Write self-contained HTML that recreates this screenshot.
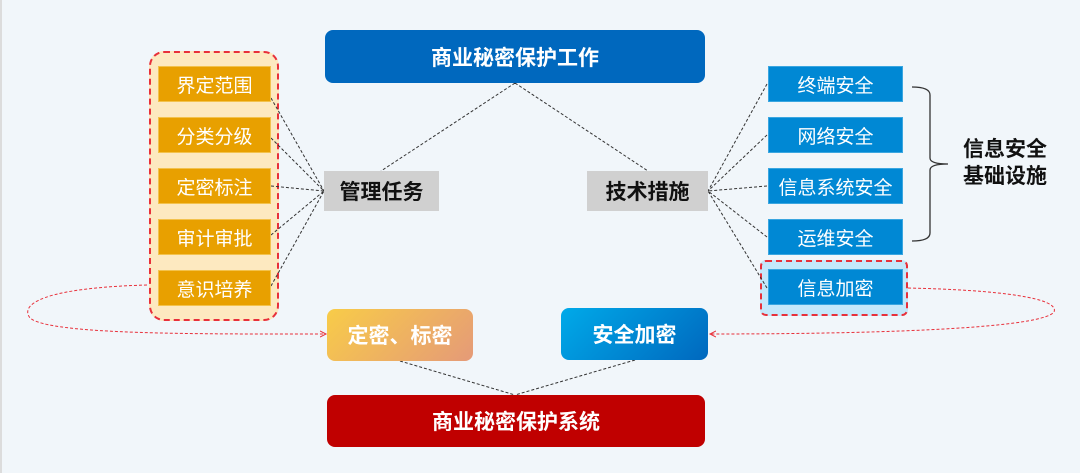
<!DOCTYPE html>
<html><head><meta charset="utf-8"><style>
html,body{margin:0;padding:0}
body{width:1080px;height:473px;background:#f1f6fa;position:relative;overflow:hidden;font-family:"Liberation Sans","Noto Sans CJK SC",sans-serif}
.b{position:absolute;display:flex;align-items:center;justify-content:center;box-sizing:border-box}
.o{background:#e8a000;color:#fff;font-size:19px;left:158px;width:113px;height:36px;border:1px solid #f3c24c}
.bl{background:#0088d4;color:#fff;font-size:19px;left:768px;width:135px;height:36px;border:1px solid #3aa6e0}
.w{color:#fff;font-weight:bold;font-size:21px;border-radius:8px}
.g{background:#d0d0d0;color:#111;font-weight:bold;font-size:21px}
</style></head><body>
<div style="position:absolute;left:0;top:0;width:2px;height:473px;background:#dcdcdc"></div>
<div style="position:absolute;left:149px;top:51px;width:130px;height:270px;box-sizing:border-box;background:#fde9c0;border:2px dashed #e8303a;border-radius:15px"></div>
<div style="position:absolute;left:760px;top:260px;width:148px;height:56px;box-sizing:border-box;background:#c4e8fb;border:2px dashed #e8303a;border-radius:6px"></div>
<svg width="1080" height="473" style="position:absolute;left:0;top:0">
<defs><marker id="a" markerWidth="8" markerHeight="8" refX="6" refY="4" orient="auto"><path d="M0,1 L6,4 L0,7" fill="none" stroke="#e8303a" stroke-width="1"/></marker></defs>
<g stroke="#333" stroke-width="1" stroke-dasharray="3,2" fill="none">
<path d="M515,83 L381,171 M515,83 L648,171"/>
<path d="M271,98 L324,191 M271,138 L324,191 M271,186 L324,191 M271,235 L324,191 M271,286 L324,191"/>
<path d="M767,84 L708,191 M767,135 L708,191 M767,186 L708,191 M767,237 L708,191 M767,288 L708,191"/>
<path d="M400,361 L515,395 M635,360 L515,395"/>
</g>
<g stroke="#e8303a" stroke-width="1" stroke-dasharray="3,2" fill="none">
<path d="M147,285 C40,288 20,305 30,318 C50,335 200,334 326,334" marker-end="url(#a)"/>
<path d="M908,288 C1000,290 1060,298 1054,312 C1040,330 850,334 710,334" marker-end="url(#a)"/>
</g>
<path d="M912,87 Q930,87 930,95 L930,158 Q930,164 948,164 Q930,164 930,170 L930,233 Q930,241 912,241" stroke="#333" stroke-width="1.3" fill="none"/>
</svg>
<div class="b w" style="left:325px;top:30px;width:380px;height:53px;background:#0068be">商业秘密保护工作</div>
<div class="b o" style="top:66px">界定范围</div>
<div class="b o" style="top:117px">分类分级</div>
<div class="b o" style="top:168px">定密标注</div>
<div class="b o" style="top:219px">审计审批</div>
<div class="b o" style="top:270px">意识培养</div>
<div class="b g" style="left:324px;top:171px;width:115px;height:40px">管理任务</div>
<div class="b g" style="left:587px;top:171px;width:121px;height:40px">技术措施</div>
<div class="b bl" style="top:66px">终端安全</div>
<div class="b bl" style="top:117px">网络安全</div>
<div class="b bl" style="top:168px">信息系统安全</div>
<div class="b bl" style="top:219px">运维安全</div>
<div class="b bl" style="top:269px">信息加密</div>
<div style="position:absolute;left:963px;top:136px;font-weight:bold;font-size:21px;line-height:27px;color:#111">信息安全<br>基础设施</div>
<div class="b w" style="left:327px;top:309px;width:146px;height:52px;background:linear-gradient(135deg,#f8cc48,#e59a78)">定密、标密</div>
<div class="b w" style="left:561px;top:308px;width:147px;height:52px;background:linear-gradient(135deg,#00aae9,#0068be)">安全加密</div>
<div class="b w" style="left:327px;top:395px;width:378px;height:52px;background:#c00000">商业秘密保护系统</div>
</body></html>
